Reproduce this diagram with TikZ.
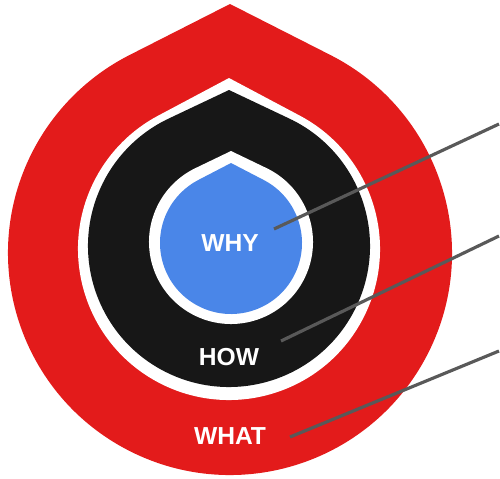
\documentclass[tikz,border=0pt]{standalone}
\usepackage{fontspec}
\setmainfont{Liberation Sans}
\usepackage{tikz}

\definecolor{whatred}{HTML}{E31B1B}
\definecolor{howblack}{HTML}{171717}
\definecolor{whyblue}{HTML}{4A86E8}
\definecolor{leadgray}{HTML}{595959}

% teardrop: circle (cx,cy) radius r, tangent lines up to an apex at height ay
\newcommand\teardrop[5]{%
  \pgfmathsetmacro\dropang{acos(#4/(#5-#3))}
  \fill[#1] (#2,#5) -- ([shift={(#2,#3)}]90-\dropang:#4)
    arc[start angle=90-\dropang, end angle=-270+\dropang, radius=#4] -- cycle;}

\begin{document}
\begin{tikzpicture}[
        x=0.02cm, y=0.02cm,
        ringtext/.style = {text=white, font=\fontsize{14}{16}\selectfont\bfseries, inner sep=0pt},
        lead/.style = {draw=leadgray, line width=1.8pt}, % leader lines to the right edge
    ]
        \useasboundingbox (0,0) rectangle (500,478);

        % Rings
        \teardrop{whatred}{230}{225}{222}{474}
        \teardrop{white}{229}{229}{151}{400}
        \teardrop{howblack}{229}{232}{141}{388}
        \teardrop{white}{231}{236}{82}{327}
        \teardrop{whyblue}{231}{235}{71}{315}

        % Nodes
        \node [ringtext] (why) at (230,235) {WHY};
        \node [ringtext] (how) at (229,121) {HOW};
        \node [ringtext] (what) at (230,42) {WHAT};

        % Ends of the leaders
        \coordinate (whyin) at (274,249);
        \coordinate (whyout) at (499,354);
        \coordinate (howin) at (281,137);
        \coordinate (howout) at (499,242);
        \coordinate (whatin) at (290,41);
        \coordinate (whatout) at (499,127);

        % Lines
        \draw [lead] (whyin) -- (whyout);
        \draw [lead] (howin) -- (howout);
        \draw [lead] (whatin) -- (whatout);
    \end{tikzpicture}
\end{document}
